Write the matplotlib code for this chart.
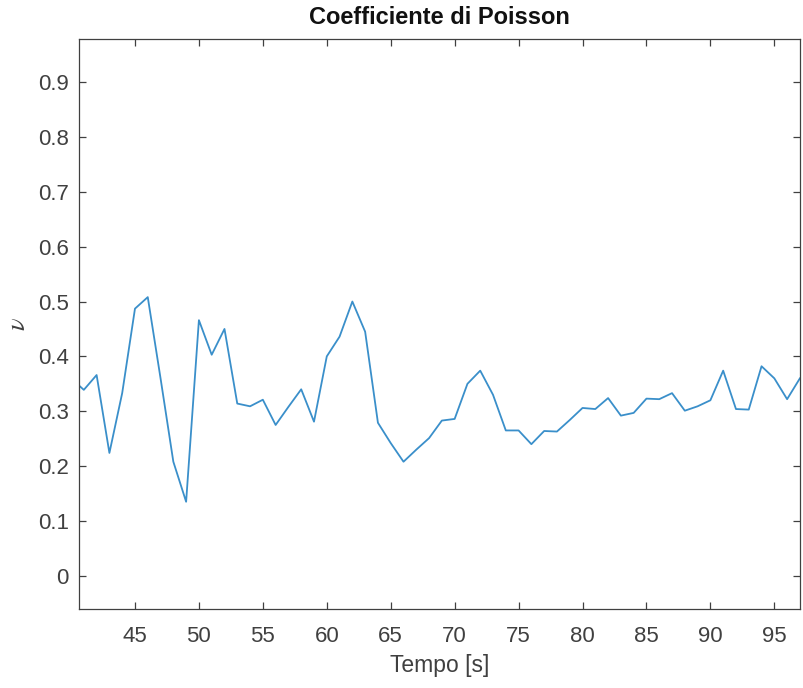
#!/usr/bin/env python3
"""
plot.py - Poisson's ratio over time, MATLAB-style line plot
"""

import numpy as np
import matplotlib
matplotlib.use("Agg")
import matplotlib.pyplot as plt
from matplotlib.ticker import FormatStrFormatter

# ---------------------------------------------------------------------
# Data: time [s] and Poisson's ratio (nu)
# ---------------------------------------------------------------------
tempo = list(range(40, 98))
nu = [
    0.360, 0.339, 0.366, 0.224, 0.333, 0.487, 0.508, 0.360, 0.208, 0.135,
    0.466, 0.403, 0.450, 0.314, 0.309, 0.321, 0.275, 0.308, 0.340, 0.281,
    0.400, 0.436, 0.500, 0.445, 0.279, 0.242, 0.208, 0.230, 0.251, 0.283,
    0.286, 0.350, 0.374, 0.330, 0.265, 0.265, 0.240, 0.264, 0.263, 0.284,
    0.306, 0.304, 0.324, 0.292, 0.297, 0.323, 0.322, 0.333, 0.301, 0.309,
    0.320, 0.374, 0.304, 0.303, 0.382, 0.360, 0.322, 0.360,
]

x_ticks = [45, 50, 55, 60, 65, 70, 75, 80, 85, 90, 95]
y_ticks = [0, 0.1, 0.2, 0.3, 0.4, 0.5, 0.6, 0.7, 0.8, 0.9]

AXIS_COLOR = "#404040"
LINE_COLOR = "#3a8fca"

plt.rcParams["font.family"] = ["Liberation Sans", "DejaVu Sans"]
plt.rcParams["mathtext.fontset"] = "stix"

fig = plt.figure(figsize=(8.04, 6.88), dpi=100)
ax = fig.add_axes([0.0979, 0.1144, 0.897, 0.8285])

ax.plot(tempo, nu, color=LINE_COLOR, linewidth=1.3)

ax.set_xlim(40.6, 97.0)
ax.set_ylim(-0.061, 0.978)
ax.set_xticks(x_ticks)
ax.set_yticks(y_ticks)
ax.yaxis.set_major_formatter(FormatStrFormatter("%g"))

# box on, ticks pointing inwards on every side
ax.tick_params(which="both", direction="in", length=5, width=0.9,
               colors=AXIS_COLOR, labelsize=16, top=True, right=True)
ax.tick_params(axis="x", pad=12)
ax.tick_params(axis="y", pad=7)
for sp in ax.spines.values():
    sp.set_color(AXIS_COLOR)
    sp.set_linewidth(0.9)

ax.set_title("Coefficiente di Poisson", fontsize=17, fontweight="bold",
             color="#111111", pad=11)
ax.set_xlabel("Tempo [s]", fontsize=16.5, color=AXIS_COLOR, labelpad=5)
ax.set_ylabel(r"$\nu$", fontsize=19, color=AXIS_COLOR, labelpad=6)

fig.savefig("out.png", dpi=100, facecolor="white")
